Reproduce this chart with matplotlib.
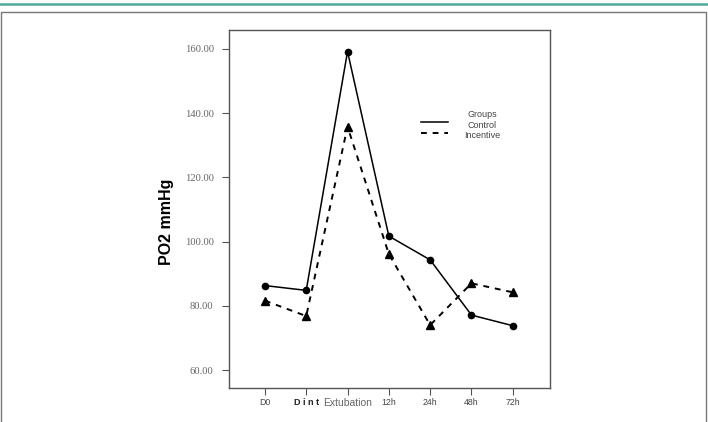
import numpy as np
from matplotlib import pyplot as plt
from matplotlib.patches import Rectangle
from matplotlib.lines import Line2D

# dane
times = ["D0", "D i n t", "Extubation", "12h", "24h", "48h", "72h"]
control = [86.3, 84.8, 159.2, 101.7, 94.3, 77.1, 73.8]
incentive = [81.6, 76.8, 135.8, 96.1, 74.0, 87.0, 84.2]
y_ticks = [60, 80, 100, 120, 140, 160]
groups = ["Control", "Incentive"]

fig = plt.figure(figsize=(7.08, 4.22), dpi=100)

# ramka i pasek u góry strony
fig.add_artist(Line2D([0, 1], [0.991, 0.991], color='#4fa99a', lw=1.8,
                      transform=fig.transFigure))
fig.add_artist(Rectangle((0.001, -0.1), 0.996, 1.071, fill=False,
                         edgecolor='#777777', lw=1.0,
                         transform=fig.transFigure))

ax = fig.add_axes([0.3234, 0.0806, 0.4534, 0.8483])
x = np.arange(len(times))
ax.plot(x, control, color='black', lw=1.1, marker='o', markersize=4.5)
ax.plot(x, incentive, color='black', lw=1.4, ls=(0, (3, 3)),
        marker='^', markersize=6)

ax.set_xlim(-0.87, 6.9)
ax.set_ylim(54.4, 165.9)
ax.set_xticks(x)
ax.set_xticklabels(times, fontsize=6.3, color='#444444',
                   family='Liberation Sans')
ax.set_yticks(y_ticks)
ax.set_yticklabels([f"{v:.2f}" for v in y_ticks], fontsize=7.6,
                   color='#666666', family='Liberation Serif')
ax.tick_params(axis='y', length=5, color='#555555', pad=6)
ax.tick_params(axis='x', length=5, color='#555555', pad=2)
for spine in ax.spines.values():
    spine.set_color('#555555')
    spine.set_linewidth(1.0)

labels = ax.get_xticklabels()
labels[1].set_fontweight('bold')
labels[1].set_fontsize(6.5)
labels[1].set_color('#222222')
labels[2].set_fontsize(7.5)
labels[2].set_color('#666666')

# legenda
ax.add_line(Line2D([0.598, 0.682], [0.743, 0.743], color='black', lw=1.1,
                   transform=ax.transAxes))
ax.add_line(Line2D([0.598, 0.682], [0.712, 0.712], color='black', lw=1.4,
                   ls=(0, (3, 3)), transform=ax.transAxes))
ax.text(0.788, 0.7626, "Groups", transform=ax.transAxes, ha='center',
        va='center', fontsize=6.5, color='#444444', family='Liberation Sans')
for label, yy in zip(groups, [0.7327, 0.704]):
    ax.text(0.788, yy, label, transform=ax.transAxes, ha='center',
            va='center', fontsize=6.5, color='#444444',
            family='Liberation Sans')

fig.text(0.2345, 0.474, "PO2 mmHg", rotation=90, ha='center', va='center',
         fontsize=11.5, fontweight='bold', family='Liberation Sans')

fig.savefig('out.png', dpi=100)
